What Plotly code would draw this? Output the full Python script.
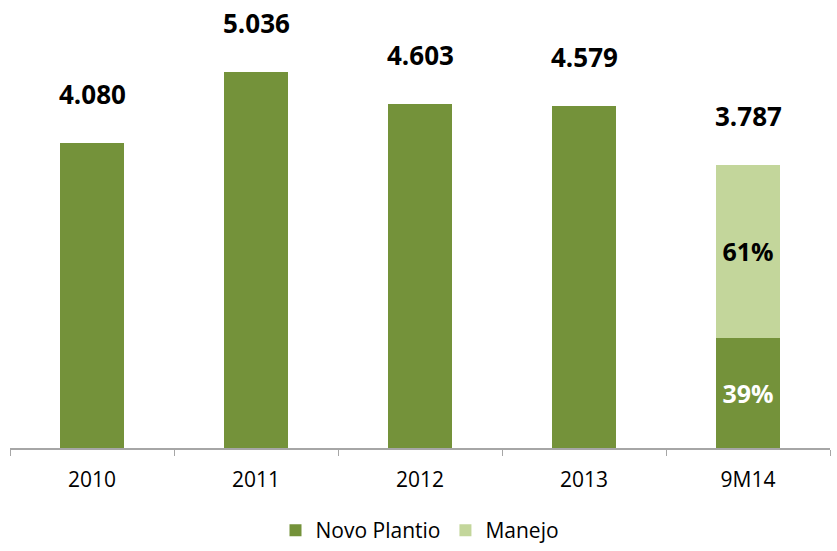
import plotly.graph_objects as go

categories = ["2010", "2011", "2012", "2013", "9M14"]
totals = [4080, 5036, 4603, 4579, 3787]
total_labels = ["4.080", "5.036", "4.603", "4.579", "3.787"]
novo_share_9m14 = 0.39
manejo_share_9m14 = 0.61

novo_values = totals[:4] + [round(totals[4] * novo_share_9m14)]
manejo_values = [None, None, None, None, totals[4] - novo_values[4]]
novo_text = ["", "", "", "", "39%"]
manejo_text = ["", "", "", "", "61%"]

dark_green = "#74923A"
light_green = "#C3D69B"
font_family = "'Open Sans', Lato, sans-serif"

fig = go.Figure()
fig.add_trace(go.Bar(
    x=categories, y=novo_values, name="Novo Plantio",
    marker=dict(color=dark_green, line=dict(width=0)),
    text=novo_text, textposition="inside", insidetextanchor="middle",
    textfont=dict(color="white", size=25, family=font_family, weight="bold"),
    width=0.39,
))
fig.add_trace(go.Bar(
    x=categories, y=manejo_values, name="Manejo",
    marker=dict(color=light_green, line=dict(width=0)),
    text=manejo_text, textposition="inside", insidetextanchor="middle",
    textfont=dict(color="black", size=25, family=font_family, weight="bold"),
    width=0.39,
))

for i, (t, lab) in enumerate(zip(totals, total_labels)):
    fig.add_annotation(x=i, y=t, text=f"<b>{lab}</b>", showarrow=False,
                       yanchor="middle", yshift=49,
                       font=dict(size=26, color="black", family=font_family))

fig.update_layout(
    width=837, height=551,
    barmode="stack",
    plot_bgcolor="white", paper_bgcolor="white",
    margin=dict(l=10, r=7, t=0, b=103),
    showlegend=True,
    legend=dict(orientation="h", x=0.5, xanchor="center",
                yref="container", y=-0.012, yanchor="bottom",
                font=dict(size=21, family=font_family, color="black"),
                traceorder="normal", itemwidth=30),
    xaxis=dict(type="category", showline=True, linecolor="#A6A6A6", linewidth=2,
               ticks="outside", tickson="boundaries", ticklen=6, tickcolor="#A6A6A6",
               tickfont=dict(size=21, family=font_family, color="black"),
               ticklabelstandoff=12,
               tickangle=0, showgrid=False, range=[-0.5, 4.5]),
    yaxis=dict(range=[0, 6000], visible=False, showgrid=False),
    uniformtext=dict(mode=False),
)

fig.write_html("out.html",
               config={"displayModeBar": False},
               post_script="document.body.style.margin='0';document.body.style.overflow='hidden';")
